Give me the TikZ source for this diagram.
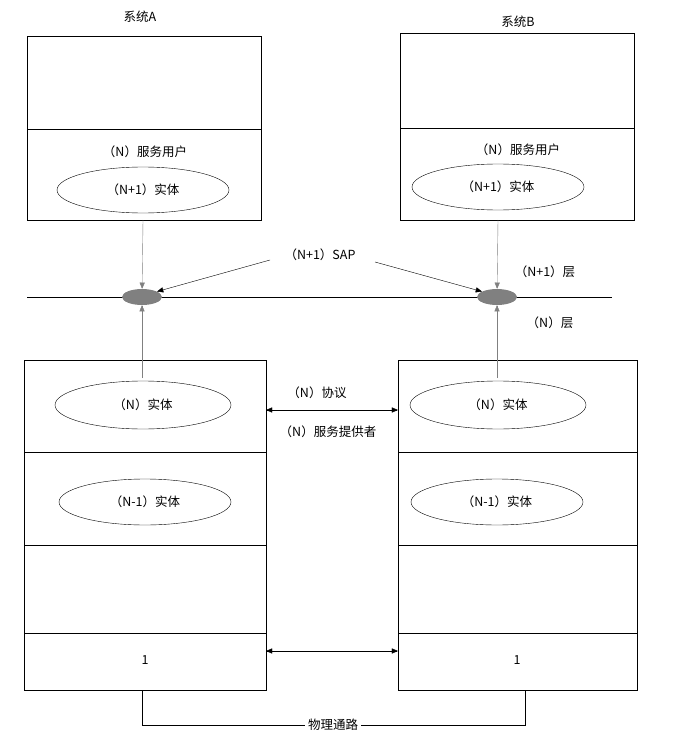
\documentclass[tikz,border=0pt]{standalone}
\usepackage{fontspec}
\setmainfont{Noto Sans CJK SC}
\usetikzlibrary{arrows,shapes.geometric}
\begin{document}
\begin{tikzpicture}[x=1pt,y=-1pt,font=\fontsize{12.5}{14}\selectfont]

\tikzset{ent/.style = {shape=ellipse,draw,minimum width=172pt,minimum height=46pt,inner sep=0pt}}
\tikzset{sap/.style = {shape=ellipse,fill=gray,minimum width=40pt,minimum height=16pt,inner sep=0pt}}
\tikzset{edge/.style = {-triangle 45}}
\tikzset{gedge/.style = {-triangle 45,draw=gray}}
\useasboundingbox (0,0) rectangle (682,738);
%systems
\draw (27,36) rectangle (261,220) (27,129) -- (261,129);
\draw (400,33) rectangle (634,220) (400,128) -- (634,128);
\node (sysA) at (140,17) {系统A};
\node (sysB) at (518,22) {系统B};
\node (userA) at (145,152) {（\textit{N}）服务用户};
\node (userB) at (518,150) {（\textit{N}）服务用户};
\node[ent] (upA) at (143,190) {（\textit{N}+1）实体};
\node[ent] (upB) at (498,187) {（\textit{N}+1）实体};
%layer line
\draw (27,297) -- (612,297);
\node[sap] (sapA) at (142,297) {};
\node[sap] (sapB) at (497,297) {};
\node (sapl) at (320,255) {（\textit{N}+1）SAP};
\node (lay1) at (545,272) {（\textit{N}+1）层};
\node (lay2) at (550,323) {（\textit{N}）层};
\coordinate (sl) at (270,260);
\coordinate (sr) at (375,262);
\draw[edge] (sl) -- (sapA.20);
\draw[edge] (sr) -- (sapB.160);
\draw[gedge] (upA.south |- 0,220) -- (sapA);
\draw[gedge] (upB.south |- 0,220) -- (sapB);
%stacks
\foreach \x/\w in {24/266,398/637}{
  \draw (\x,360) rectangle (\w,690);
  \foreach \y in {452,545,633} \draw (\x,\y) -- (\w,\y);
}
\node[ent,minimum width=176pt,minimum height=48pt] (nA) at (143,405) {（\textit{N}）实体};
\node[ent,minimum width=176pt,minimum height=48pt] (nB) at (498,405) {（\textit{N}）实体};
\node[ent] (lowA) at (145,502) {（\textit{N}-1）实体};
\node[ent] (lowB) at (497,502) {（\textit{N}-1）实体};
\draw[gedge] (sapA |- 0,378) -- (sapA);
\draw[gedge] (sapB |- 0,378) -- (sapB);
\coordinate (pa) at (266,410);
\coordinate (pb) at (398,410);
\draw[triangle 45-triangle 45] (pa) -- (pb);
\node (prot) at (317,393) {（\textit{N}）协议};
\node (prov) at (328,432) {（\textit{N}）服务提供者};
\coordinate (ba) at (266,651);
\coordinate (bb) at (398,651);
\draw[triangle 45-triangle 45] (ba) -- (bb);
\node (oneA) at (145,660) {1};
\node (oneB) at (517,660) {1};
%physical path
\draw (142,690) -- (142,725) -- (525,725) -- (525,690);
\node[fill=white] (phys) at (333,725) {物理通路};

\end{tikzpicture}
\end{document}
